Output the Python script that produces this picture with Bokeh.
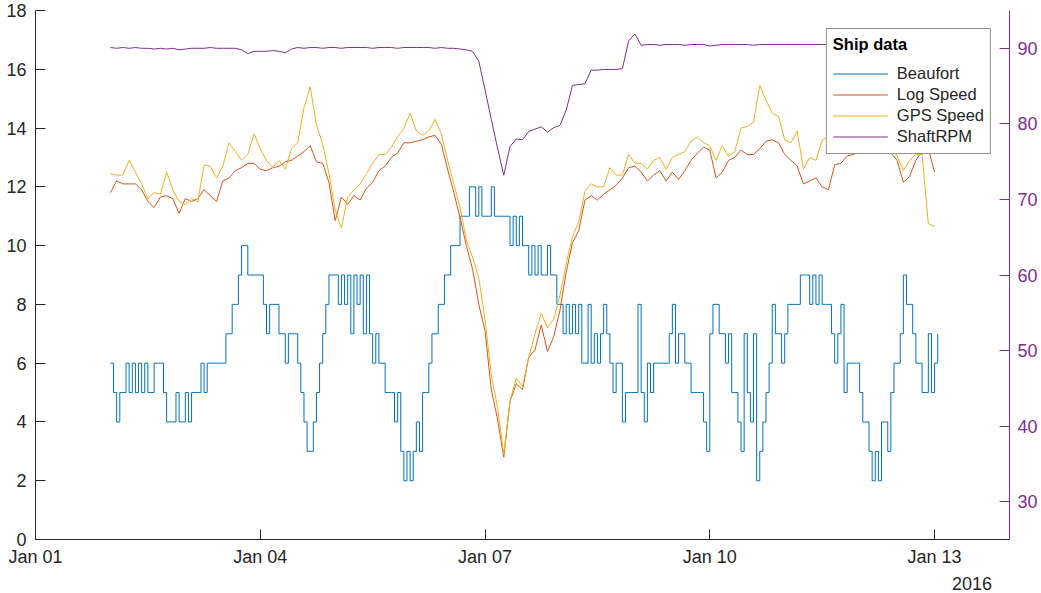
import pandas as pd
from datetime import datetime
from bokeh.plotting import figure
from bokeh.models import (Range1d, LinearAxis, FixedTicker, DatetimeTickFormatter,
                          Legend, LegendItem, CustomJSTickFormatter)
from bokeh.embed import file_html
from bokeh.resources import INLINE

# ---------------- data ----------------
beaufort_start = "2016-01-02 00:00"   # hourly samples
speed_start = "2016-01-02 00:00"      # 2-hourly samples

beaufort = [
    6, 5, 4, 5, 5, 6, 5, 6, 5, 6,
    5, 6, 5, 5, 6, 6, 6, 5, 4, 4,
    4, 5, 4, 4, 5, 4, 5, 5, 5, 6,
    5, 6, 6, 6, 6, 6, 6, 7, 7, 8,
    8, 9, 10, 10, 9, 9, 9, 9, 9, 8,
    7, 8, 8, 8, 7, 7, 6, 7, 7, 7,
    6, 5, 4, 3, 3, 4, 5, 6, 7, 8,
    9, 9, 9, 8, 9, 8, 9, 7, 9, 8,
    9, 7, 9, 7, 6, 7, 6, 6, 5, 5,
    5, 4, 5, 3, 2, 3, 2, 3, 4, 3,
    5, 5, 6, 7, 7, 8, 8, 9, 9, 10,
    10, 10, 11, 11, 11, 12, 12, 11, 12, 11,
    11, 11, 12, 11, 11, 11, 11, 11, 10, 11,
    10, 11, 10, 10, 9, 10, 9, 10, 9, 9,
    10, 9, 9, 8, 8, 7, 8, 7, 8, 7,
    8, 6, 6, 8, 6, 7, 6, 7, 8, 7,
    6, 5, 6, 6, 4, 5, 5, 5, 5, 8,
    5, 4, 6, 5, 6, 6, 6, 6, 6, 7,
    8, 6, 7, 7, 6, 6, 5, 5, 5, 5,
    4, 3, 7, 8, 8, 7, 7, 6, 7, 5,
    5, 4, 3, 7, 5, 4, 7, 2, 3, 4,
    5, 6, 8, 7, 7, 6, 7, 8, 8, 8,
    8, 9, 9, 9, 8, 9, 8, 9, 8, 8,
    8, 7, 6, 7, 8, 5, 6, 6, 6, 6,
    5, 4, 4, 3, 2, 3, 2, 4, 4, 3,
    5, 6, 6, 7, 9, 8, 8, 7, 6, 6,
    5, 5, 7, 5, 6, 7,
]

log_speed = [
    11.8, 12.2, 12.1, 12.1, 12.1, 11.9, 11.5, 11.3, 11.65, 11.7,
    11.6, 11.1, 11.6, 11.5, 11.6, 11.9, 11.7, 11.5, 12.2, 12.3,
    12.55, 12.65, 12.8, 12.8, 12.6, 12.55, 12.65, 12.7, 12.85, 12.9,
    13.05, 13.2, 13.4, 12.85, 12.8, 12.15, 10.85, 11.65, 11.4, 11.7,
    11.55, 11.95, 12.15, 12.55, 12.7, 13.0, 13.15, 13.5, 13.5, 13.55,
    13.6, 13.7, 13.75, 13.45, 12.6, 11.8, 10.95, 10.0, 9.2, 8.0,
    7.1, 5.1, 4.1, 2.8, 4.7, 5.3, 5.1, 6.2, 6.45, 7.3,
    6.4, 6.9, 7.8, 9.1, 10.1, 10.5, 11.55, 11.7, 11.55, 11.75,
    11.9, 12.05, 12.3, 12.65, 12.7, 12.5, 12.2, 12.4, 12.55, 12.2,
    12.5, 12.25, 12.55, 12.9, 13.15, 13.35, 13.25, 12.3, 12.5, 12.9,
    13.0, 13.25, 13.1, 13.1, 13.3, 13.55, 13.6, 13.5, 13.1, 12.9,
    12.7, 12.1, 12.2, 12.3, 12.0, 11.9, 12.75, 12.8, 13.05, 13.1,
    13.2, 13.4, 13.35, 13.3, 13.3, 13.15, 12.9, 12.15, 12.35, 12.9,
    13.2, 13.3, 12.5,
]

gps_speed = [
    12.45, 12.4, 12.4, 12.9, 12.5, 12.1, 11.6, 11.8, 11.75, 12.5,
    11.9, 11.5, 11.4, 11.6, 11.5, 12.75, 12.7, 12.3, 12.7, 13.5,
    13.2, 12.9, 13.1, 13.8, 13.3, 12.9, 12.65, 12.9, 12.6, 13.3,
    13.5, 14.7, 15.4, 14.1, 13.45, 12.45, 11.2, 10.6, 11.65, 11.9,
    12.1, 12.45, 12.8, 13.1, 13.1, 13.35, 13.7, 14.0, 14.5, 13.9,
    13.75, 13.9, 14.3, 13.8, 12.9, 12.1, 11.3, 10.2, 9.6, 8.9,
    7.5, 5.6, 4.5, 2.9, 4.7, 5.5, 5.2, 6.2, 7.0, 7.7,
    7.2, 7.5, 8.3, 9.4, 10.3, 10.8, 11.85, 12.1, 12.0, 12.0,
    12.65, 12.4, 12.4, 13.1, 12.8, 12.8, 12.6, 12.9, 13.0, 12.6,
    13.0, 13.1, 13.2, 13.55, 13.7, 13.5, 13.4, 12.9, 13.4, 13.05,
    13.2, 14.0, 14.05, 14.2, 15.45, 14.95, 14.5, 14.4, 13.6, 13.5,
    13.9, 12.6, 13.0, 12.9, 13.6, 13.7, 13.6, 13.8, 13.9, 13.9,
    14.0, 14.0, 13.9, 13.6, 13.3, 13.35, 13.05, 12.55, 12.9, 13.1,
    13.1, 10.75, 10.65,
]

shaft_rpm = [
    90.1, 90.0, 90.1, 90.0, 90.1, 90.0, 90.0, 89.9, 90.0, 89.9,
    90.0, 89.8, 89.9, 90.0, 90.0, 90.0, 90.1, 90.0, 90.0, 90.0,
    90.0, 89.8, 89.3, 89.6, 89.6, 89.6, 89.7, 89.6, 89.4, 89.9,
    90.1, 90.0, 90.1, 90.1, 90.0, 90.1, 90.1, 90.0, 90.1, 90.1,
    90.1, 90.1, 90.0, 90.1, 90.1, 90.1, 90.0, 90.1, 90.1, 90.1,
    90.1, 90.1, 90.0, 90.1, 90.0, 90.0, 89.9, 89.8, 89.6, 88.3,
    84.5, 80.6, 76.8, 73.2, 77.0, 78.0, 77.9, 79.0, 79.3, 79.6,
    78.9, 79.5, 79.8, 81.8, 85.1, 85.2, 85.3, 87.1, 87.1, 87.2,
    87.2, 87.2, 87.3, 91.0, 91.9, 90.4, 90.5, 90.5, 90.4, 90.5,
    90.5, 90.5, 90.4, 90.5, 90.5, 90.5, 90.3, 90.4, 90.5, 90.5,
    90.5, 90.5, 90.5, 90.4, 90.5, 90.5, 90.5, 90.5, 90.5, 90.5,
    90.5, 90.5, 90.5, 90.5, 90.5, 90.5, 90.5, 90.5, 90.5, 90.5,
    90.5, 90.5, 90.5, 90.5, 90.5, 90.5, 90.5, 90.5, 90.5, 90.5,
    90.5, 90.5, 90.5,
]

series_names = ["Beaufort", "Log Speed", "GPS Speed", "ShaftRPM"]
legend_title = "Ship data"
year_label = "2016"
x_tick_dates = ["2016-01-01", "2016-01-04", "2016-01-07", "2016-01-10", "2016-01-13"]
left_ticks = [0, 2, 4, 6, 8, 10, 12, 14, 16, 18]
right_ticks = [30, 40, 50, 60, 70, 80, 90]

beaufort_times = pd.date_range(beaufort_start, periods=len(beaufort), freq="h")
speed_times = pd.date_range(speed_start, periods=len(log_speed), freq="2h")

# ---------------- styling ----------------
C_BLUE, C_ORANGE, C_YELLOW, C_PURPLE = "#0072BD", "#D95319", "#EDB120", "#7E2F8E"
AX = "#262626"
FONT = "Liberation Sans"
TICK_FS = "18px"


def ms(s):
    return pd.Timestamp(s).value // 10**6


p = figure(width=1040, height=592, x_axis_type="datetime",
           x_range=Range1d(datetime(2016, 1, 1), datetime(2016, 1, 14)),
           y_range=Range1d(0, 18),
           output_backend="svg", toolbar_location=None,
           min_border_left=35, min_border_right=31, min_border_top=10, min_border_bottom=0)
p.extra_y_ranges = {"rpm": Range1d(25, 95)}
p.outline_line_color = None
p.xgrid.visible = False
p.ygrid.visible = False
p.background_fill_color = "white"

r1 = p.step(beaufort_times, beaufort, mode="after", line_color=C_BLUE, line_width=1)
r2 = p.line(speed_times, log_speed, line_color=C_ORANGE, line_width=1)
r3 = p.line(speed_times, gps_speed, line_color=C_YELLOW, line_width=1)
r4 = p.line(speed_times, shaft_rpm, line_color=C_PURPLE, line_width=1, y_range_name="rpm")


def style_axis(ax, color):
    ax.axis_line_color = color
    ax.axis_line_width = 1
    ax.major_tick_line_color = color
    ax.major_tick_in = 10
    ax.major_tick_out = 0
    ax.minor_tick_line_color = None
    ax.major_label_text_font = FONT
    ax.major_label_text_font_size = TICK_FS
    ax.major_label_text_color = color


xax = p.xaxis[0]
xax.ticker = FixedTicker(ticks=[ms(d) for d in x_tick_dates])
fmt = "%b %d"
xax.formatter = DatetimeTickFormatter(days=fmt, months=fmt, hours=fmt, hourmin=fmt,
                                      minutes=fmt, years=fmt, context=None)
style_axis(xax, AX)
xax.major_label_standoff = 7

yax = p.yaxis[0]
yax.ticker = FixedTicker(ticks=left_ticks)
style_axis(yax, AX)
yax.major_label_standoff = 9

rax = LinearAxis(y_range_name="rpm", ticker=FixedTicker(ticks=right_ticks))
style_axis(rax, C_PURPLE)
rax.major_label_standoff = 8
p.add_layout(rax, "right")

year_axis = LinearAxis(ticker=FixedTicker(ticks=[ms("2016-01-13 12:00")]),
                       formatter=CustomJSTickFormatter(code="return '%s';" % year_label))
year_axis.axis_line_color = None
year_axis.major_tick_line_color = None
year_axis.minor_tick_line_color = None
year_axis.major_label_text_font = FONT
year_axis.major_label_text_font_size = TICK_FS
year_axis.major_label_text_color = AX
year_axis.major_label_standoff = 1
p.add_layout(year_axis, "below")

legend = Legend(items=[LegendItem(label=n, renderers=[r]) for n, r in
                       zip(series_names, [r1, r2, r3, r4])],
                location="top_right", title=legend_title)
legend.title_text_font = FONT
legend.title_text_font_style = "bold"
legend.title_text_font_size = "16.5px"
legend.title_text_color = "black"
legend.label_text_font = FONT
legend.label_text_font_size = "16.5px"
legend.label_text_color = AX
legend.border_line_color = AX
legend.border_line_width = 1
legend.background_fill_color = "white"
legend.background_fill_alpha = 1.0
legend.glyph_width = 55
legend.glyph_height = 21
legend.label_height = 21
legend.spacing = 0
legend.padding = 6
legend.margin = 18
legend.label_standoff = 9
legend.title_standoff = 9
p.add_layout(legend)

open("out.html", "w").write(file_html(p, INLINE))
